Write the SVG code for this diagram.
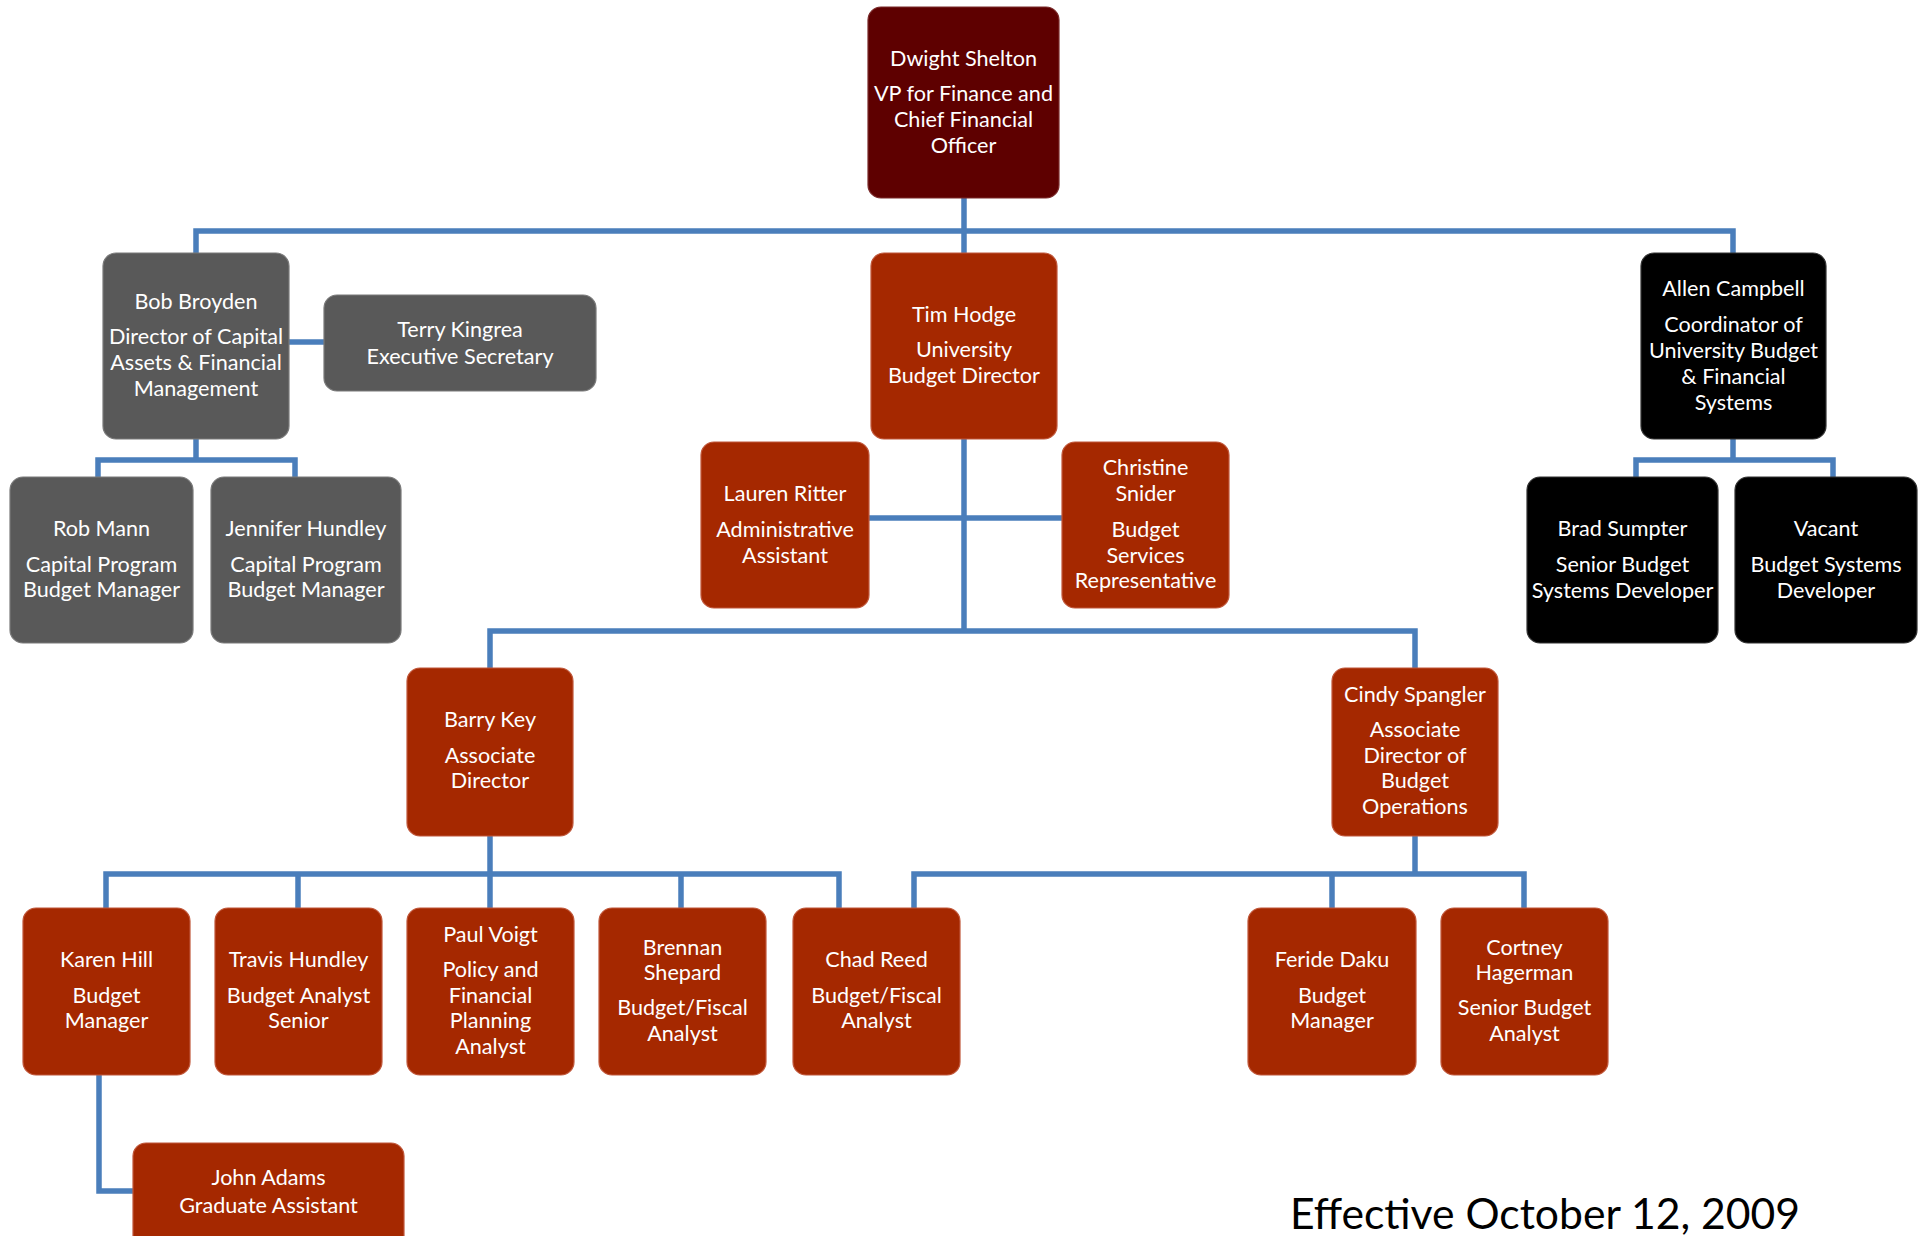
<svg xmlns="http://www.w3.org/2000/svg" width="1927" height="1236" viewBox="0 0 1927 1236">
<style>
.box{stroke-width:1.2}
.red{fill:#a52800;stroke:#c0573a}
.dark{fill:#5e0000;stroke:#7a2a2a}
.gray{fill:#595959;stroke:#7a7a7a}
.black{fill:#000;stroke:#333}
text{font-family:Lato,"Open Sans","Liberation Sans",sans-serif;font-size:21.6px;fill:#fff;text-anchor:middle}
.conn{fill:none;stroke:#4a7ebb;stroke-width:5.5;stroke-linejoin:miter;stroke-linecap:butt}
.date{fill:#000;font-size:42px;text-anchor:start}
</style>
<rect width="1927" height="1236" fill="#fff"/>
<g id="connectors">
<path class="conn" d="M964,198 V253"/>
<path class="conn" d="M196,253 V231 H1733 V253"/>
<path class="conn" d="M289,342 H324"/>
<path class="conn" d="M196,439 V460"/>
<path class="conn" d="M98,477 V460 H295 V477"/>
<path class="conn" d="M964,439 V631"/>
<path class="conn" d="M869,518 H1062"/>
<path class="conn" d="M490,668 V631 H1415 V668"/>
<path class="conn" d="M1733,439 V460"/>
<path class="conn" d="M1636,477 V460 H1833 V477"/>
<path class="conn" d="M490,836 V874"/>
<path class="conn" d="M106,908 V874 H839 V908"/>
<path class="conn" d="M298,874 V908"/>
<path class="conn" d="M490,874 V908"/>
<path class="conn" d="M681,874 V908"/>
<path class="conn" d="M1415,836 V874"/>
<path class="conn" d="M914,908 V874 H1524 V908"/>
<path class="conn" d="M1332,874 V908"/>
<path class="conn" d="M99,1075 V1191 H133"/>
</g>
<g id="dwight"><rect class="box dark" x="868" y="7" width="191" height="191" rx="13"/>
<text x="963.5" y="66">Dwight Shelton</text><text x="963.5" y="101">VP for Finance and</text><text x="963.5" y="127">Chief Financial</text><text x="963.5" y="153">Officer</text></g>
<g id="bob"><rect class="box gray" x="103" y="253" width="186" height="186" rx="13"/>
<text x="196" y="309">Bob Broyden</text><text x="196" y="344">Director of Capital</text><text x="196" y="370">Assets &amp; Financial</text><text x="196" y="396">Management</text></g>
<g id="terry"><rect class="box gray" x="324" y="295" width="272" height="96" rx="13"/>
<text x="460" y="337">Terry Kingrea</text><text x="460" y="364">Executive Secretary</text></g>
<g id="tim"><rect class="box red" x="871" y="253" width="186" height="186" rx="13"/>
<text x="964" y="322">Tim Hodge</text><text x="964" y="357">University</text><text x="964" y="383">Budget Director</text></g>
<g id="allen"><rect class="box black" x="1641" y="253" width="185" height="186" rx="13"/>
<text x="1733.5" y="296">Allen Campbell</text><text x="1733.5" y="332">Coordinator of</text><text x="1733.5" y="358">University Budget</text><text x="1733.5" y="384">&amp; Financial</text><text x="1733.5" y="410">Systems</text></g>
<g id="rob"><rect class="box gray" x="10" y="477" width="183" height="166" rx="13"/>
<text x="101.5" y="536">Rob Mann</text><text x="101.5" y="572">Capital Program</text><text x="101.5" y="597">Budget Manager</text></g>
<g id="jennifer"><rect class="box gray" x="211" y="477" width="190" height="166" rx="13"/>
<text x="306" y="536">Jennifer Hundley</text><text x="306" y="572">Capital Program</text><text x="306" y="597">Budget Manager</text></g>
<g id="lauren"><rect class="box red" x="701" y="442" width="168" height="166" rx="13"/>
<text x="785" y="501">Lauren Ritter</text><text x="785" y="537">Administrative</text><text x="785" y="563">Assistant</text></g>
<g id="christine"><rect class="box red" x="1062" y="442" width="167" height="166" rx="13"/>
<text x="1145.5" y="475">Christine</text><text x="1145.5" y="501">Snider</text><text x="1145.5" y="537">Budget</text><text x="1145.5" y="563">Services</text><text x="1145.5" y="588">Representative</text></g>
<g id="brad"><rect class="box black" x="1527" y="477" width="191" height="166" rx="13"/>
<text x="1622.5" y="536">Brad Sumpter</text><text x="1622.5" y="572">Senior Budget</text><text x="1622.5" y="598">Systems Developer</text></g>
<g id="vacant"><rect class="box black" x="1735" y="477" width="182" height="166" rx="13"/>
<text x="1826" y="536">Vacant</text><text x="1826" y="572">Budget Systems</text><text x="1826" y="598">Developer</text></g>
<g id="barry"><rect class="box red" x="407" y="668" width="166" height="168" rx="13"/>
<text x="490" y="727">Barry Key</text><text x="490" y="763">Associate</text><text x="490" y="788">Director</text></g>
<g id="cindy"><rect class="box red" x="1332" y="668" width="166" height="168" rx="13"/>
<text x="1415" y="702">Cindy Spangler</text><text x="1415" y="737">Associate</text><text x="1415" y="763">Director of</text><text x="1415" y="788">Budget</text><text x="1415" y="814">Operations</text></g>
<g id="karen"><rect class="box red" x="23" y="908" width="167" height="167" rx="13"/>
<text x="106.5" y="967">Karen Hill</text><text x="106.5" y="1003">Budget</text><text x="106.5" y="1028">Manager</text></g>
<g id="travis"><rect class="box red" x="215" y="908" width="167" height="167" rx="13"/>
<text x="298.5" y="967">Travis Hundley</text><text x="298.5" y="1003">Budget Analyst</text><text x="298.5" y="1028">Senior</text></g>
<g id="paul"><rect class="box red" x="407" y="908" width="167" height="167" rx="13"/>
<text x="490.5" y="942">Paul Voigt</text><text x="490.5" y="977">Policy and</text><text x="490.5" y="1003">Financial</text><text x="490.5" y="1028">Planning</text><text x="490.5" y="1054">Analyst</text></g>
<g id="brennan"><rect class="box red" x="599" y="908" width="167" height="167" rx="13"/>
<text x="682.5" y="955">Brennan</text><text x="682.5" y="980">Shepard</text><text x="682.5" y="1015">Budget/Fiscal</text><text x="682.5" y="1041">Analyst</text></g>
<g id="chad"><rect class="box red" x="793" y="908" width="167" height="167" rx="13"/>
<text x="876.5" y="967">Chad Reed</text><text x="876.5" y="1003">Budget/Fiscal</text><text x="876.5" y="1028">Analyst</text></g>
<g id="feride"><rect class="box red" x="1248" y="908" width="168" height="167" rx="13"/>
<text x="1332" y="967">Feride Daku</text><text x="1332" y="1003">Budget</text><text x="1332" y="1028">Manager</text></g>
<g id="cortney"><rect class="box red" x="1441" y="908" width="167" height="167" rx="13"/>
<text x="1524.5" y="955">Cortney</text><text x="1524.5" y="980">Hagerman</text><text x="1524.5" y="1015">Senior Budget</text><text x="1524.5" y="1041">Analyst</text></g>
<g id="john"><rect class="box red" x="133" y="1143" width="271" height="120" rx="13"/>
<text x="268.5" y="1185">John Adams</text><text x="268.5" y="1213">Graduate Assistant</text></g>
<text class="date" x="1290" y="1229" textLength="510" lengthAdjust="spacingAndGlyphs">Effective October 12, 2009</text>
</svg>
